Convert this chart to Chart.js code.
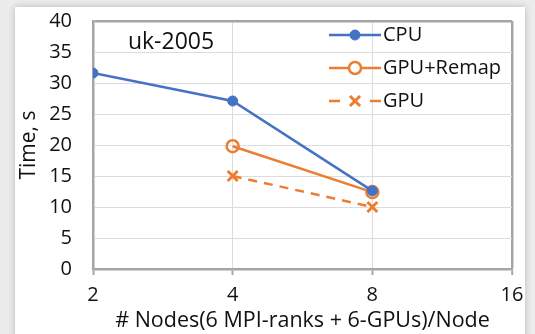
<!DOCTYPE html>
<html>
<head>
<meta charset="utf-8">
<script src="https://cdn.jsdelivr.net/npm/chart.js@4"></script>
<style>
html, body { margin: 0; padding: 0; width: 535px; height: 334px; overflow: hidden; background: #ececec; }
#card { position: absolute; left: 15px; top: 7px; width: 510px; height: 345px; background: #fff; box-shadow: 0 0 7px rgba(0,0,0,0.22); }
#wrap { position: absolute; left: 0; top: 0; width: 535px; height: 334px; }
</style>
</head>
<body>
<div id="card"></div>
<div id="wrap"><canvas id="main_graphic" width="535" height="334"></canvas></div>
<script>
// values
const nodes = [2, 4, 8, 16]
const cpu = [31.6, 27.1, 12.6, null]
const gpu_remap = [null, 19.8, 12.4, null]
const gpu = [null, 15.0, 10.0, null]
const y_ticks = [0, 5, 10, 15, 20, 25, 30, 35, 40]
const graph_name = 'uk-2005'

const blue = '#4472c4'
const orange = '#ed7d31'
const axis_gray = '#a5a5a5'
const grid_gray = '#dcdcdc'
const text_color = '#111'
const font_name = "'Open Sans', sans-serif"

const pontos = (valores) => {
  lista = []
  for (index in nodes) {
    if (valores[index] != null) lista.push({x: nodes[index], y: valores[index]})
  }
  return lista
}

const legenda = {
  id: 'legenda',
  afterDatasetsDraw(chart) {
    const ctx = chart.ctx
    ctx.save()
    // graph name inside the plot
    ctx.fillStyle = text_color
    ctx.font = "23px " + font_name
    ctx.textAlign = 'center'
    ctx.textBaseline = 'middle'
    ctx.fillText(graph_name, 171, 42)

    const linhas_y = [35, 68, 101]
    chart.data.datasets.forEach((ds, i) => {
      const y = linhas_y[i]
      ctx.strokeStyle = ds.borderColor
      ctx.lineWidth = 2.5
      if (ds.borderDash && ds.borderDash.length) {
        ctx.beginPath(); ctx.moveTo(329, y); ctx.lineTo(340, y); ctx.stroke()
        ctx.beginPath(); ctx.moveTo(370, y); ctx.lineTo(381, y); ctx.stroke()
      } else {
        ctx.beginPath(); ctx.moveTo(329, y); ctx.lineTo(381, y); ctx.stroke()
      }
      ctx.fillStyle = ds.label == 'GPU+Remap' ? '#fff' : ds.pointBackgroundColor
      ctx.strokeStyle = ds.borderColor
      ctx.lineWidth = ds.pointBorderWidth
      ctx.beginPath()
      if (ds.pointStyle == 'circle') {
        ctx.arc(355, y, ds.pointRadius, 0, Math.PI * 2)
        ctx.fill(); ctx.stroke()
      } else {
        const r = ds.pointRadius * 0.72
        ctx.moveTo(355 - r, y - r); ctx.lineTo(355 + r, y + r)
        ctx.moveTo(355 + r, y - r); ctx.lineTo(355 - r, y + r)
        ctx.stroke()
      }
      ctx.fillStyle = text_color
      ctx.font = "20px " + font_name
      ctx.textAlign = 'left'
      ctx.fillText(ds.label, 383, y)
    })
    ctx.restore()
  }
}

var data = {
  datasets: [
    {
      label: 'CPU', data: pontos(cpu), borderColor: blue, backgroundColor: blue,
      pointBackgroundColor: blue, borderWidth: 2.5, pointStyle: 'circle',
      pointRadius: 5, pointBorderWidth: 1, order: 0
    },
    {
      label: 'GPU+Remap', data: pontos(gpu_remap), borderColor: orange, backgroundColor: '#fff',
      pointBackgroundColor: 'rgba(255,255,255,0)', borderWidth: 2.5, pointStyle: 'circle',
      pointRadius: 6, pointBorderWidth: 2.5, order: 1
    },
    {
      label: 'GPU', data: pontos(gpu), borderColor: orange, backgroundColor: orange,
      pointBackgroundColor: orange, borderWidth: 2.5, borderDash: [9, 7], pointStyle: 'crossRot',
      pointRadius: 7, pointBorderWidth: 3, order: 2
    }
  ]
}

var config = {
  type: 'line',
  data: data,
  plugins: [legenda],
  options: {
    responsive: false,
    animation: false,
    layout: {padding: {top: 0, right: 23, left: 0, bottom: 0}},
    plugins: {legend: {display: false}, tooltip: {enabled: false}},
    scales: {
      x: {
        type: 'logarithmic', min: 2, max: 16,
        afterBuildTicks: (scale) => { scale.ticks = nodes.map(v => ({value: v})) },
        afterFit: (scale) => { scale.height = 65 },
        ticks: {
          color: text_color, font: {family: font_name, size: 20}, padding: 8,
          maxRotation: 0, autoSkip: false, callback: (v) => String(v)
        },
        grid: {
          color: (c) => c.tick && c.tick.value == 16 ? axis_gray : grid_gray,
          lineWidth: (c) => c.tick && c.tick.value == 16 ? 2.5 : 1,
          tickColor: axis_gray, tickLength: 6, tickWidth: 2
        },
        border: {color: axis_gray, width: 2.5},
        title: {
          display: true, text: '# Nodes(6 MPI-ranks + 6-GPUs)/Node', color: text_color,
          font: {family: font_name, size: 21.5}, padding: {top: 0, bottom: 0}
        }
      },
      y: {
        min: 0, max: 40,
        afterBuildTicks: (scale) => { scale.ticks = y_ticks.map(v => ({value: v})) },
        afterFit: (scale) => {
          scale.width = 93
          scale.paddingTop = 21
          scale.paddingBottom = 12
        },
        ticks: {color: text_color, font: {family: font_name, size: 20}, padding: 21},
        grid: {
          color: (c) => c.tick && c.tick.value == 40 ? axis_gray : grid_gray,
          lineWidth: (c) => c.tick && c.tick.value == 40 ? 2.5 : 1,
          drawTicks: false
        },
        border: {color: axis_gray, width: 2.5},
        title: {
          display: true, text: 'Time, s', color: text_color,
          font: {family: font_name, size: 21}, padding: {top: 16, bottom: 0}
        }
      }
    }
  }
}

var myChart = new Chart(document.getElementById('main_graphic'), config)
</script>
</body>
</html>
